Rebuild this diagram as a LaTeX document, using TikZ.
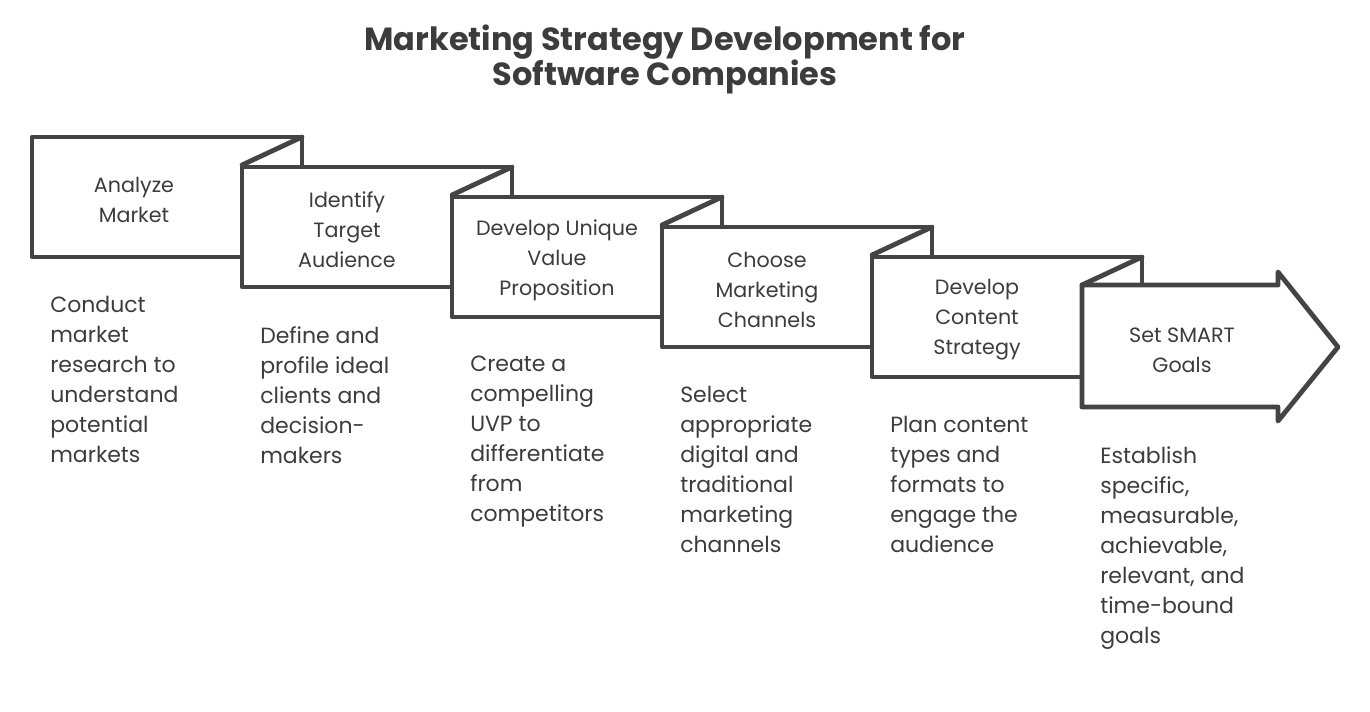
\documentclass[tikz,border=0pt]{standalone}
\usepackage{fontspec}
\setmainfont{Poppins}
\definecolor{ink}{HTML}{444444}
\definecolor{txt}{HTML}{3C3C3C}
\begin{document}
\begin{tikzpicture}[x=0.75pt,y=-0.75pt,
  boxline/.style={draw=ink,line width=3.6pt,line join=round,line cap=round,fill=white},
  lbl/.style={text=txt,font=\fontsize{15.5}{22.5}\selectfont,align=center,inner sep=0pt},
  desc/.style={text=txt,font=\fontsize{16.5}{22.5}\selectfont,align=left,inner sep=0pt,anchor=north west},
  ttl/.style={text=txt,font=\fontsize{24}{26.25}\selectfont\bfseries,align=center,inner sep=0pt}]
\useasboundingbox (0,0) rectangle (1370,711);
\node[ttl] (title) at (665,59) {Marketing Strategy Development for\\Software Companies};
% boxes
\foreach \i in {0,...,4}{
  \pgfmathsetmacro{\xa}{32+210*\i}
  \pgfmathsetmacro{\ya}{137+30*\i}
  \draw[boxline] (\xa,\ya) rectangle ++(270,120);
  \draw[boxline] (\xa+210,\ya+28) -- (\xa+270,\ya);
}
\draw[boxline] (1082,285) -- (1278,285) -- (1278,272) -- (1338,347) -- (1278,421) -- (1278,407) -- (1082,407) -- cycle;
% labels
\node[lbl] (l1) at (134,200) {Analyze\\Market};
\node[lbl] (l2) at (347,230) {Identify\\Target\\Audience};
\node[lbl] (l3) at (557,260) {Develop Unique\\Value\\Proposition};
\node[lbl] (l4) at (767,290) {Choose\\Marketing\\Channels};
\node[lbl] (l5) at (977,320) {Develop\\Content\\Strategy};
\node[lbl] (l6) at (1182,350) {Set SMART\\Goals};
% descriptions
\node[desc] (d1) at (50,296) {Conduct\\market\\research to\\understand\\potential\\markets};
\node[desc] (d2) at (260,326) {Define and\\profile ideal\\clients and\\decision-\\makers};
\node[desc] (d3) at (470,356) {Create a\\compelling\\UVP to\\differentiate\\from\\competitors};
\node[desc] (d4) at (680,386) {Select\\appropriate\\digital and\\traditional\\marketing\\channels};
\node[desc] (d5) at (890,416) {Plan content\\types and\\formats to\\engage the\\audience};
\node[desc] (d6) at (1100,446) {Establish\\specific,\\measurable,\\achievable,\\relevant, and\\time-bound\\goals};
\end{tikzpicture}
\end{document}
